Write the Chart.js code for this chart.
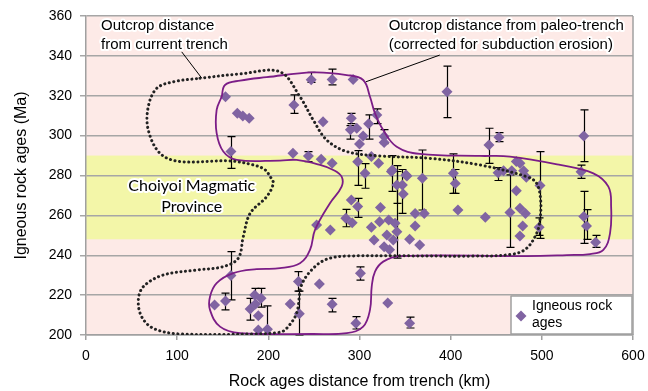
<!DOCTYPE html>
<html>
<head>
<meta charset="utf-8">
<script src="https://cdn.jsdelivr.net/npm/chart.js@4.4.1/dist/chart.umd.min.js"></script>
<style>
  html, body { margin: 0; padding: 0; background: #fff; }
  #wrap { width: 648px; height: 391px; }
</style>
</head>
<body>
<div id="wrap"><canvas id="ageChart" width="648" height="391"></canvas></div>
<script>
// rock ages: distance from trench (km), age (Ma), error bar low / high (null = no bar)
var distKm = [153,166,172,179,159,159,141,153,185,192,180,186,189,189,199,224,233,234,256,270,296,301,331,355,
  247,270,293,228,260,291,310,319,290,297,304,300,327,327,227,244,258,270,298,306,313,321,336,351,369,403,396,442,453,546,543,
  253,268,285,291,298,292,323,313,316,332,322,327,333,339,341,330,337,341,347,348,352,335,361,371,361,355,366,405,408,438,
  452,458,467,472,476,480,483,472,498,465,476,482,479,476,497,546,549,559];
var ageMa = [319.5,311.2,309.8,308.7,292,229.8,215,217,220.1,218.4,213,215.5,209.6,202.5,202.9,215.6,226.8,210.6,225.6,215.4,205.9,231,216,205.9,
  328,328.2,328.2,315.4,307,308.7,306,310.4,303,303.7,299.8,295.8,299.5,296.5,291.1,289.8,288.1,286.1,286.9,281.1,289.5,286.1,282.8,280.3,278.6,281.1,322,295.3,299.2,299.8,281.9,
  255.2,252.7,258.5,267.7,264.4,256.3,263.9,254,247.7,257.7,256.8,244.3,242.7,256,251.8,250.2,247.7,275.2,275.2,270.7,279.8,282,261,261,254.7,248,245.2,276,262.7,259,
  281.4,282.4,282.4,287,286.1,282.4,279.1,272.4,275,261.4,263.6,261,254.7,249.7,254,259.4,254.7,246.5];
var ageLo = [null,null,null,null,283.6,217.6,null,212.6,216,214,207.5,null,null,null,202.9,null,222,200,null,211.6,203,227.5,null,203.5,
  326.7,325.5,null,311.2,null,306,298.2,306,298.2,null,null,null,296,null,null,287,null,null,275,273.6,null,null,272,null,262.7,271,309,286.1,297,287,278.6,
  null,null,254.3,null,259,null,null,null,null,null,null,null,null,null,238.6,null,null,266,261,null,null,null,null,null,null,null,null,271,null,null,
  277.5,null,null,null,null,null,null,null,248.5,244,null,null,null,null,250,246,248,244];
var ageHi = [null,null,null,null,299.5,241.8,null,221,223.4,223.4,218.4,null,null,null,214.6,null,231.8,222,null,218.4,209.2,234.2,null,209,
  331.7,333.4,null,320.4,null,311.2,310.4,313.4,305,null,null,null,303,null,null,292,null,null,292.5,286,null,null,290,null,292.8,290.8,334.9,303.7,301.5,312.9,285.2,
  null,null,263,null,268.5,null,null,null,null,null,null,null,null,null,282,null,null,285,283,null,null,null,null,null,null,null,null,283,null,null,
  284,null,null,null,null,null,null,null,292,280.3,null,null,null,null,258.7,272,262.9,250];

// outline: outcrop distance from current trench (dotted)
var currentKm = [125,170,212.8,234.7,249.3,264,286,322.5,377.3,432,483.4,494.3,498.7,498,494.3,483.4,468.7,432,286,264,249.3,236.5,231,220,
  212.8,183.5,103,74,61,57.4,63,84.8,121.4,150.6,167,172.5,180,198.2,205.4,201.8,196,183.5,158,103,81.2,68.3,68.3,77.5,95.8,125];
var currentMa = [328.8,331,332,319.5,307.8,297.8,292,289.8,288.6,285.3,279.4,276.1,267.7,257.7,251,243.5,240.6,239.6,239.6,238,233.5,225.1,210.9,203.3,
  201.4,200.5,200.5,203.3,209.2,217.6,224.3,230.1,232.6,234.3,238.5,249.3,261,269.4,276.1,279.6,283,285.3,287.3,287,291.1,302.8,314.5,323.7,327,328.8];

// outline: outcrop distance from paleo-trench (solid)
var paleoKm = [148.8,152.5,169,198.2,249.3,286,304,311.5,317,326,340.8,366.3,432,465,520,556.5,573,576,574.8,567.5,552.8,527.3,483.4,344.4,
  326,317,313.4,311.5,304,286,249.3,169,147,136,136,143.3,161.6,187.2,212.8,234.7,245.7,251.2,267.6,280.4,280.4,271.2,256.7,231,212.8,165.3,150.6,143.3,143.3,148.8];
var paleoMa = [319.5,325.4,327.6,329.3,331.7,330.4,327.9,319.5,311.2,302.8,294.4,290.8,289.8,289.5,285.3,281.1,274.4,264.4,251,242.7,240.6,240.1,239.6,239.6,
  236.8,231.8,224.3,212.6,204.2,200.9,200.5,200.9,204.2,212.6,219.2,226,231,233,233.5,236,242.7,252.7,266.1,274.4,279.4,282.8,285.3,287.8,287.5,287.8,292,301.2,312.9,319.5];

var xTicks = [0, 100, 200, 300, 400, 500, 600];
var yTicks = [200, 220, 240, 260, 280, 300, 320, 340, 360];
var choiyoiBand = [248, 290];

function pts(xs, ys){
  var out = [];
  for (var i = 0; i < xs.length; i++) out.push({x: xs[i], y: ys[i]});
  return out;
}

var bandPlugin = {
  id: 'bands',
  beforeDraw: function(chart){
    var c = chart.ctx, a = chart.chartArea, ys = chart.scales.y;
    c.save();
    c.fillStyle = '#fdeae7';
    c.fillRect(a.left, a.top, a.right - a.left, a.bottom - a.top);
    c.fillStyle = '#f3f6a8';
    var t = ys.getPixelForValue(choiyoiBand[1]), b = ys.getPixelForValue(choiyoiBand[0]);
    c.fillRect(a.left, t, a.right - a.left, b - t);
    c.restore();
  },
  afterDraw: function(chart){
    var c = chart.ctx, a = chart.chartArea;
    c.save();
    c.strokeStyle = '#a0a0a0';
    c.lineWidth = 1.5;
    c.beginPath();
    c.moveTo(a.right, a.top); c.lineTo(a.right, a.bottom);
    c.stroke();
    c.restore();
  }
};

var errorBars = {
  id: 'errorBars',
  beforeDatasetsDraw: function(chart){
    var c = chart.ctx, xs = chart.scales.x, ys = chart.scales.y;
    c.save();
    c.strokeStyle = '#000';
    c.lineWidth = 1.2;
    for (var i = 0; i < distKm.length; i++){
      if (ageLo[i] === null) continue;
      var x = Math.round(xs.getPixelForValue(distKm[i])) + 0.5;
      var y1 = ys.getPixelForValue(ageLo[i]), y2 = ys.getPixelForValue(ageHi[i]);
      c.beginPath();
      c.moveTo(x, y1); c.lineTo(x, y2);
      c.moveTo(x - 4, y1); c.lineTo(x + 4, y1);
      c.moveTo(x - 4, y2); c.lineTo(x + 4, y2);
      c.stroke();
    }
    c.restore();
  }
};

function haloText(c, txt, x, y, align){
  c.textAlign = align;
  c.lineJoin = 'round';
  c.strokeStyle = '#ffffff';
  c.lineWidth = 4;
  c.strokeText(txt, x, y);
  c.fillStyle = '#000';
  c.fillText(txt, x, y);
}

var notes = {
  id: 'notes',
  afterDatasetsDraw: function(chart){
    var c = chart.ctx, xs = chart.scales.x, ys = chart.scales.y, a = chart.chartArea;
    function X(v){ return xs.getPixelForValue(v); }
    function Y(v){ return ys.getPixelForValue(v); }
    c.save();
    // leader lines
    c.strokeStyle = '#000';
    c.lineWidth = 1;
    c.beginPath();
    c.moveTo(X(105), Y(342)); c.lineTo(X(127), Y(328.8));
    c.moveTo(X(388), Y(340.4)); c.lineTo(X(307), Y(327));
    c.stroke();

    c.textBaseline = 'middle';
    c.font = '15px "Liberation Sans", Arial, sans-serif';
    haloText(c, 'Outcrop distance', X(16.5), Y(355), 'left');
    haloText(c, 'from current trench', X(16.5), Y(345.5), 'left');
    haloText(c, 'Outcrop distance from paleo-trench', X(332), Y(355), 'left');
    haloText(c, '(corrected for subduction erosion)', X(332), Y(345.5), 'left');

    c.font = '16px Lato, "Open Sans", sans-serif';
    haloText(c, 'Choiyoi Magmatic', X(116), Y(274.8), 'center');
    haloText(c, 'Province', X(116), Y(264.2), 'center');

    // legend box
    var lx = a.right - 122, ly = a.bottom - 39;
    c.fillStyle = '#fff';
    c.fillRect(lx, ly, 121, 38);
    c.strokeStyle = '#a0a0a0';
    c.lineWidth = 1.5;
    c.strokeRect(lx, ly, 121, 38);
    c.fillStyle = '#8064a2';
    c.beginPath();
    c.moveTo(lx + 10, ly + 14.5); c.lineTo(lx + 15.5, ly + 20); c.lineTo(lx + 10, ly + 25.5); c.lineTo(lx + 4.5, ly + 20);
    c.closePath(); c.fill();
    c.font = '14px "Liberation Sans", Arial, sans-serif';
    c.fillStyle = '#000';
    c.textAlign = 'left';
    c.fillText('Igneous rock', lx + 21, ly + 10);
    c.fillText('ages', lx + 21, ly + 27);
    c.restore();
  }
};

new Chart(document.getElementById('ageChart'), {
  type: 'scatter',
  data: {
    datasets: [
      {
        label: 'Igneous rock ages',
        data: pts(distKm, ageMa),
        pointStyle: 'rectRot',
        pointRadius: 5.5,
        pointHoverRadius: 5.5,
        backgroundColor: '#8064a2',
        borderColor: '#8064a2',
        borderWidth: 0,
        order: 3
      },
      {
        label: 'Outcrop distance from current trench',
        data: pts(currentKm, currentMa),
        showLine: true,
        pointRadius: 0,
        borderColor: '#222',
        borderWidth: 3,
        borderDash: [0.1, 4.5],
        borderCapStyle: 'round',
        tension: 0.35,
        fill: false,
        order: 1
      },
      {
        label: 'Outcrop distance from paleo-trench',
        data: pts(paleoKm, paleoMa),
        showLine: true,
        pointRadius: 0,
        borderColor: '#7b1d87',
        borderWidth: 1.8,
        tension: 0.4,
        fill: false,
        order: 2
      }
    ]
  },
  options: {
    responsive: false,
    animation: false,
    layout: { padding: { top: 16, right: 15, left: 0, bottom: 0 } },
    plugins: { legend: { display: false }, tooltip: { enabled: false } },
    scales: {
      x: {
        type: 'linear', min: 0, max: 600,
        afterBuildTicks: function(s){ s.ticks = xTicks.map(function(v){ return {value: v}; }); },
        afterFit: function(s){ s.height = 56; s.paddingLeft = 0; s.paddingRight = 0; },
        ticks: { color: '#000', font: { size: 14, family: '"Liberation Sans", Arial, sans-serif' }, padding: 8 },
        grid: { display: true, drawOnChartArea: false, tickLength: 5, color: '#a0a0a0', lineWidth: 1.5 },
        border: { color: '#a0a0a0', width: 1.5 },
        title: { display: true, text: 'Rock ages distance from trench (km)', color: '#000',
                 font: { size: 16, family: '"Liberation Sans", Arial, sans-serif' }, padding: { top: 0, bottom: 0 } }
      },
      y: {
        type: 'linear', min: 200, max: 360,
        afterBuildTicks: function(s){ s.ticks = yTicks.map(function(v){ return {value: v}; }); },
        afterFit: function(s){ s.width = 86; s.paddingTop = 0; s.paddingBottom = 0; },
        ticks: { color: '#000', font: { size: 14, family: '"Liberation Sans", Arial, sans-serif' }, padding: 8 },
        grid: { color: '#a6a6a6', lineWidth: 1.5, tickLength: 6 },
        border: { color: '#a0a0a0', width: 1.5 },
        title: { display: true, text: 'Igneous rock ages (Ma)', color: '#000',
                 font: { size: 16, family: '"Liberation Sans", Arial, sans-serif' }, padding: { top: 12, bottom: 0 } }
      }
    }
  },
  plugins: [bandPlugin, errorBars, notes]
});
</script>
</body>
</html>
